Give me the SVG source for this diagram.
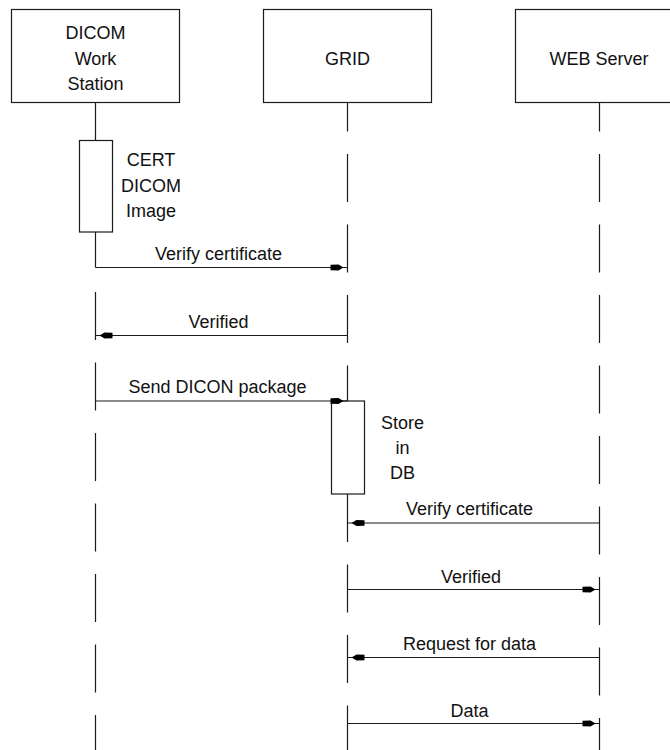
<svg xmlns="http://www.w3.org/2000/svg" width="670" height="750" viewBox="0 0 670 750">
  <style>
    .box { fill: #ffffff; stroke: #1a1a1a; stroke-width: 1.2; }
    .life { stroke: #1a1a1a; stroke-width: 1.2; fill: none; }
    .dash { stroke-dasharray: 48 22.5; }
    .msg { stroke: #1a1a1a; stroke-width: 1.2; fill: none; marker-end: url(#arrow); }
    text { font-family: "Liberation Sans", Arial, sans-serif; font-size: 18px; fill: #111111; text-anchor: middle; }
  </style>
  <defs>
    <marker id="arrow" markerUnits="userSpaceOnUse" viewBox="0 -5 18 10" markerWidth="18" markerHeight="10" refX="17" refY="0" orient="auto" overflow="visible">
      <path d="M0,-2.8 L8,-3 L13,0 L8,3 L0,2.8 Z" fill="#000000"/>
    </marker>
  </defs>
  <rect width="670" height="750" fill="#ffffff"/>

  <g id="dicom">
    <line class="life" x1="95.5" y1="102" x2="95.5" y2="140"/>
    <line class="life" x1="95.5" y1="232" x2="95.5" y2="267.5"/>
    <line class="life dash" x1="95.5" y1="292" x2="95.5" y2="750"/>
    <rect class="box" x="11.5" y="9.5" width="168" height="93"/>
    <text x="95.5" y="39">DICOM</text>
    <text x="95.5" y="64.5">Work</text>
    <text x="95.5" y="90">Station</text>
  </g>

  <g id="grid">
    <line class="life dash" x1="347.5" y1="102" x2="347.5" y2="401" stroke-dashoffset="18.5"/>
    <line class="life dash" x1="347.5" y1="494" x2="347.5" y2="750"/>
    <rect class="box" x="263.5" y="9.5" width="168" height="93"/>
    <text x="347.5" y="64.5">GRID</text>
  </g>

  <g id="web">
    <line class="life dash" x1="599.5" y1="102" x2="599.5" y2="750" stroke-dashoffset="18.5"/>
    <rect class="box" x="515.5" y="9.5" width="168" height="93"/>
    <text x="599" y="64.5">WEB Server</text>
  </g>

  <g id="act-dicom">
    <rect class="box" x="79.5" y="140.5" width="33" height="91.5"/>
    <text x="151" y="166">CERT</text>
    <text x="151" y="191.5">DICOM</text>
    <text x="151" y="217">Image</text>
  </g>

  <g id="act-grid">
    <rect class="box" x="331.5" y="401" width="33" height="93"/>
    <text x="402.5" y="429">Store</text>
    <text x="402.5" y="454">in</text>
    <text x="402.5" y="479">DB</text>
  </g>

  <g id="connectors">
    <line class="msg" x1="95.5" y1="267.5" x2="347.5" y2="267.5"/>
    <text x="218.5" y="260">Verify certificate</text>

    <line class="msg" x1="347.5" y1="335.5" x2="95.5" y2="335.5"/>
    <text x="218.5" y="328">Verified</text>

    <line class="msg" x1="95.5" y1="401" x2="347.5" y2="401"/>
    <text x="217.5" y="393">Send DICON package</text>

    <line class="msg" x1="599.5" y1="523" x2="347.5" y2="523"/>
    <text x="469.5" y="515">Verify certificate</text>

    <line class="msg" x1="347.5" y1="589.5" x2="599.5" y2="589.5"/>
    <text x="471" y="582.5">Verified</text>

    <line class="msg" x1="599.5" y1="657.5" x2="347.5" y2="657.5"/>
    <text x="469.5" y="650">Request for data</text>

    <line class="msg" x1="347.5" y1="723.5" x2="599.5" y2="723.5"/>
    <text x="469.5" y="716.5">Data</text>
  </g>
</svg>
